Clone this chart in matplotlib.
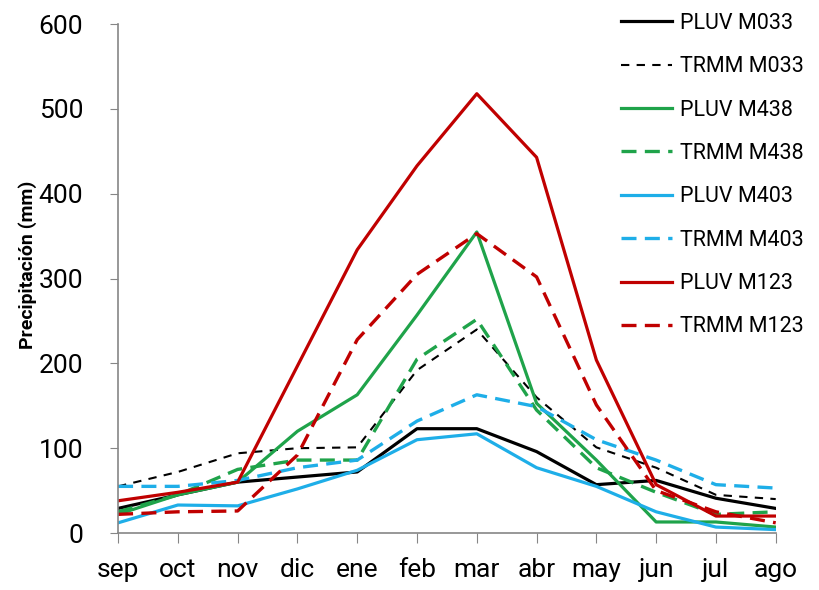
import numpy as np
import matplotlib.pyplot as plt

plt.rcParams['font.family'] = ['Roboto', 'DejaVu Sans']

# Months (hydrological year)
meses = ["sep", "oct", "nov", "dic", "ene", "feb", "mar", "abr", "may", "jun", "jul", "ago"]

# Precipitation (mm)
pluv_m033 = [29, 45, 60, 66, 72, 123, 123, 96, 57, 62, 41, 29]
trmm_m033 = [55, 72, 94, 100, 101, 192, 240, 160, 101, 77, 45, 40]
pluv_m438 = [22, 45, 60, 120, 163, 257, 355, 153, 86, 13, 13, 7]
trmm_m438 = [25, 45, 75, 86, 86, 205, 252, 145, 77, 48, 22, 25]
pluv_m403 = [12, 33, 32, 52, 74, 110, 117, 77, 55, 25, 7, 4]
trmm_m403 = [55, 55, 62, 77, 86, 132, 163, 149, 110, 86, 57, 53]
pluv_m123 = [38, 48, 60, 197, 334, 433, 518, 443, 204, 57, 20, 20]
trmm_m123 = [22, 25, 26, 92, 228, 305, 353, 302, 151, 50, 25, 12]

black = "#000000"
green = "#1FA34A"
blue = "#1EAEE8"
red = "#C00000"
gray = "#868686"

x = np.arange(len(meses))

fig = plt.figure(figsize=(8.2, 5.9), dpi=100)
ax = fig.add_axes([0.144, 0.0966, 0.802, 0.8624])

ax.plot(x, pluv_m033, color=black, lw=2.3, label="PLUV M033")
ax.plot(x, trmm_m033, color=black, lw=1.5, ls=(0, (4, 3.5)), label="TRMM M033")
ax.plot(x, pluv_m438, color=green, lw=2.3, label="PLUV M438")
ax.plot(x, trmm_m438, color=green, lw=2.4, ls=(0, (4.5, 2.5)), label="TRMM M438")
ax.plot(x, pluv_m403, color=blue, lw=2.3, label="PLUV M403")
ax.plot(x, trmm_m403, color=blue, lw=2.4, ls=(0, (4.5, 2.5)), label="TRMM M403")
ax.plot(x, pluv_m123, color=red, lw=2.3, label="PLUV M123")
ax.plot(x, trmm_m123, color=red, lw=2.4, ls=(0, (4.5, 2.5)), label="TRMM M123")

ax.set_xlim(0, 11)
ax.set_ylim(0, 600)
ax.set_xticks(x)
ax.set_xticklabels(meses, fontsize=19)
ax.set_yticks(np.arange(0, 601, 100))
ax.tick_params(axis='y', labelsize=19, length=6, color=gray, pad=19)
ax.tick_params(axis='x', length=7, color=gray, pad=11)
ax.set_ylabel("Precipitación (mm)", fontsize=14, fontweight='bold')
ax.yaxis.set_label_coords(-0.123, 0.528)

for s in ["top", "right"]:
    ax.spines[s].set_visible(False)
for s in ["left", "bottom"]:
    ax.spines[s].set_color(gray)
    ax.spines[s].set_linewidth(1.2)

ax.legend(loc="upper left", bbox_to_anchor=(610 / 820, 1 - 2 / 590),
          bbox_transform=fig.transFigure, frameon=False, borderpad=0,
          fontsize=15.5, handlelength=2.4, handletextpad=0.36, labelspacing=1.04)

fig.savefig("out.png", dpi=100)
